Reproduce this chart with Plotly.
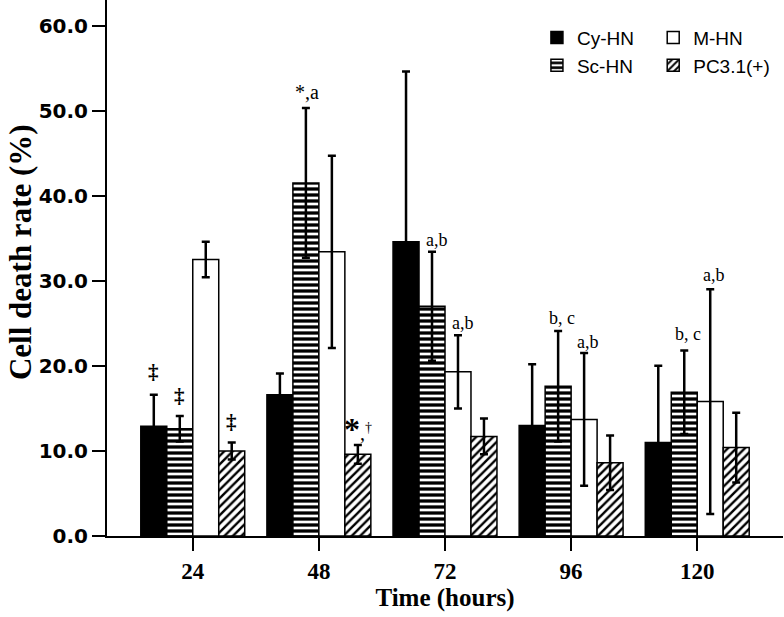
import plotly.graph_objects as go

hours = ["24", "48", "72", "96", "120"]
cy_hn = [12.9, 16.6, 34.6, 13.0, 11.0]
cy_err = [3.7, 2.5, 20.0, 7.2, 9.0]
sc_hn = [12.6, 41.5, 27.0, 17.6, 16.9]
sc_err = [1.5, 8.8, 6.4, 6.5, 4.9]
m_hn = [32.5, 33.4, 19.3, 13.7, 15.8]
m_err = [2.1, 11.3, 4.3, 7.8, 13.2]
pc_hn = [10.0, 9.6, 11.7, 8.6, 10.4]
pc_err = [1.0, 1.1, 2.1, 3.2, 4.1]

series = [
    ("Cy-HN", cy_hn, cy_err, "black", "", "legend"),
    ("Sc-HN", sc_hn, sc_err, "white", "-", "legend"),
    ("M-HN", m_hn, m_err, "white", "", "legend2"),
    ("PC3.1(+)", pc_hn, pc_err, "white", "/", "legend2"),
]

fig = go.Figure()
for name, vals, errs, fill, shape, lg in series:
    marker = dict(color=fill, line=dict(color="black", width=1.5))
    if shape:
        marker["pattern"] = dict(shape=shape, fgcolor="black", bgcolor="white",
                                 fgopacity=1, size=6,
                                 solidity=0.55 if shape == "-" else 0.4)
    fig.add_trace(go.Bar(
        x=hours, y=vals, name=name, marker=marker, legend=lg,
        error_y=dict(type="data", array=errs, visible=True, color="black",
                     thickness=2.5, width=4),
    ))

# significance marks: (group index, bar index, y value, text, size, x shift)
w = 0.206
offs = [-1.5 * w, -0.5 * w, 0.5 * w, 1.5 * w]
dag2 = "<b>&#8225;</b>"
star_dag = "<span style='font-size:32px'><b>*</b></span>,<sup>†</sup>"
marks = [
    (0, 0, 19.3, dag2, 21, 0.0),
    (0, 1, 16.4, dag2, 21, 0.0),
    (0, 3, 13.4, dag2, 21, 0.0),
    (1, 1, 52.2, "*,a", 20, 0.01),
    (1, 3, 12.6, star_dag, 20, 0.0),
    (2, 1, 34.8, "a,b", 18, 0.04),
    (2, 2, 25.0, "a,b", 18, 0.04),
    (3, 1, 25.6, "b, c", 18, 0.03),
    (3, 2, 22.8, "a,b", 18, 0.03),
    (4, 1, 23.8, "b, c", 18, 0.03),
    (4, 2, 30.7, "a,b", 18, 0.03),
]
for gi, bi, yv, txt, sz, dx in marks:
    fig.add_annotation(x=gi + offs[bi] + dx, y=yv, text=txt, showarrow=False,
                       font=dict(family="Liberation Serif", size=sz, color="black"),
                       xref="x", yref="y")

fig.add_annotation(text="<b>Cell death rate (%)</b>", textangle=-90, showarrow=False,
                   xref="paper", yref="paper", x=-0.127, y=0.53,
                   xanchor="center", yanchor="middle",
                   font=dict(family="Liberation Serif", size=31, color="black"))

legend_common = dict(orientation="v", yanchor="top", xanchor="left",
                     font=dict(family="Liberation Sans", size=19, color="black"),
                     bgcolor="rgba(0,0,0,0)", tracegroupgap=0, itemwidth=30)

fig.update_layout(
    width=784, height=617,
    margin=dict(l=107, r=1, t=0, b=81),
    paper_bgcolor="white", plot_bgcolor="white",
    barmode="group", bargap=0.176, bargroupgap=0,
    showlegend=True,
    legend=dict(x=0.636, y=0.965, **legend_common),
    legend2=dict(x=0.808, y=0.965, **legend_common),
    xaxis=dict(
        type="category", range=[-0.68, 4.68],
        showline=True, linecolor="black", linewidth=2,
        ticks="outside", ticklen=13, tickwidth=2, tickcolor="black",
        showgrid=False, zeroline=False,
        tickfont=dict(family="Liberation Serif", size=23, color="black", weight="bold"),
        title=dict(text="<b>Time (hours)</b>", standoff=4,
                   font=dict(family="Liberation Serif", size=25, color="black")),
    ),
    yaxis=dict(
        range=[0, 63], tickvals=[0, 10, 20, 30, 40, 50, 60], tickformat=".1f",
        showline=True, linecolor="black", linewidth=2,
        ticks="outside", ticklen=13, tickwidth=2, tickcolor="black",
        showgrid=False, zeroline=False,
        tickfont=dict(family="DejaVu Sans", size=20, color="black", weight="bold"),
    ),
)

fig.write_html("out.html", config={"displayModeBar": False},
               post_script="document.body.style.margin='0';")
